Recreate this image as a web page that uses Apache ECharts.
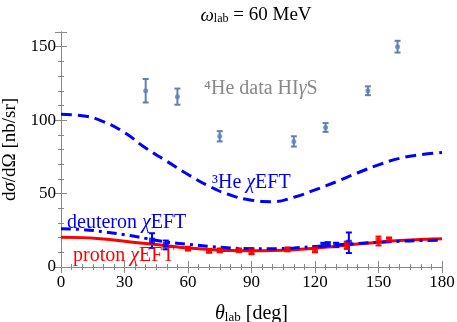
<!DOCTYPE html>
<html>
<head>
<meta charset="utf-8">
<script src="https://cdn.jsdelivr.net/npm/echarts@6/dist/echarts.min.js"></script>
<style>
  html, body { margin: 0; padding: 0; background: #fff; }
  #chart { width: 457px; height: 322px; }
</style>
</head>
<body>
<div id="chart"></div>
<script>
// 4He data HIgS: angle, value, error
const he4Angle = [40, 55, 75, 110, 125, 145, 159]
const he4Value = [120, 116, 89, 85.5, 95, 120, 150]
const he4Error = [8, 5.5, 3.5, 3.5, 3, 3, 4]

// deuteron data
const dAngle = [43, 49.5, 124, 126, 130, 136]
const dValue = [18, 15, 15, 15.5, 15, 16.5]
const dError = [5, 3, 1.5, 1.2, 1.5, 7]

// proton data
const pAngle = [60, 70, 75, 84, 90, 107, 120, 135, 150, 155]
const pValue = [12.5, 11, 11.3, 11.4, 10.7, 12, 12, 14.8, 17.7, 18.7]
const pError = [1, 1, 1, 0.8, 2, 1, 2, 2.5, 3, 1.2]

// theory curves (every 10 deg)
const curveAngle = [0, 10, 20, 30, 40, 50, 60, 70, 80, 90, 100, 110, 120, 130, 140, 150, 160, 170, 180]
const he3Curve = [104, 103, 99, 91.5, 81, 72, 63, 55, 49, 45.5, 44.5, 47.5, 52.5, 58, 64, 69.5, 74, 76.5, 78]
const deutCurve = [26, 25.5, 24, 22, 19.5, 17, 15.5, 14, 13, 12.5, 12.5, 13, 14, 15, 16, 16.8, 17.5, 18, 18.2]
const protCurve = [20.2, 20, 19, 17.5, 16, 14.5, 13, 12, 11.2, 11, 11.2, 11.8, 12.8, 14.2, 15.6, 16.9, 18, 18.8, 19.3]

const serif = 'Liberation Serif'
const heColor = '#5E81B5'

const chart = echarts.init(document.getElementById('chart'))

function zip3(a, b, c) {
  return a.map((v, i) => [v, b[i], c[i]])
}

function errorBars(color, capW) {
  return function (params, api) {
    const x = api.value(0), y = api.value(1), e = api.value(2)
    const top = api.coord([x, y + e])
    const bot = api.coord([x, y - e])
    const st = { stroke: color, lineWidth: 2 }
    return {
      type: 'group',
      children: [
        { type: 'line', shape: { x1: top[0], y1: top[1], x2: bot[0], y2: bot[1] }, style: st },
        { type: 'line', shape: { x1: top[0] - capW, y1: top[1], x2: top[0] + capW, y2: top[1] }, style: st },
        { type: 'line', shape: { x1: bot[0] - capW, y1: bot[1], x2: bot[0] + capW, y2: bot[1] }, style: st }
      ]
    }
  }
}

// rich styles for math-ish text
function mathRich(size, color, key) {
  const c = {}
  c[key] = color
  return {
    i: Object.assign({ fontFamily: serif, fontStyle: 'italic', fontWeight: 'normal', fontSize: size }, c),
    sub: Object.assign({ fontFamily: serif, fontWeight: 'normal', fontSize: Math.round(size * 0.65), verticalAlign: 'bottom', padding: [7, 0, 0, 0] }, c),
    n: Object.assign({ fontFamily: serif, fontWeight: 'normal', fontSize: size }, c)
  }
}

const axisLine = { lineStyle: { color: '#888', width: 1 } }
const tick = { inside: true, length: 6, lineStyle: { color: '#888' } }
const minor = n => ({ show: true, splitNumber: n, length: 3, lineStyle: { color: '#888' } })

const option = {
  animation: false,
  title: {
    text: '{i|ω}{sub|lab}{n| = 60 MeV}',
    left: 251,
    top: 1,
    textAlign: 'center',
    textStyle: { fontWeight: 'normal', rich: mathRich(19, '#000', 'color') }
  },
  grid: { left: 61, right: 15, top: 32, bottom: 55, outerBoundsMode: 'none' },
  xAxis: [{
    type: 'value', min: 0, max: 180, interval: 30,
    name: '{i|θ}{sub|lab}{n| [deg]}',
    nameLocation: 'middle', nameGap: 37,
    nameTextStyle: { rich: mathRich(20, '#000', 'color') },
    axisLine: axisLine,
    axisTick: tick,
    minorTick: minor(6),
    axisLabel: { fontFamily: serif, fontSize: 17, color: '#000', margin: 7 },
    splitLine: { show: false }
  }, {
    type: 'value', min: 0, max: 180, interval: 30, position: 'top',
    axisLine: axisLine,
    axisTick: tick,
    minorTick: minor(6),
    axisLabel: { show: false },
    splitLine: { show: false }
  }],
  yAxis: [{
    type: 'value', min: 0, max: 160, interval: 50,
    name: '{n|d}{i|σ}{n|/dΩ [nb/sr]}',
    nameLocation: 'middle', nameGap: 38, nameRotate: 90,
    nameTextStyle: { rich: mathRich(19, '#000', 'color') },
    axisLine: axisLine,
    axisTick: tick,
    minorTick: minor(5),
    axisLabel: {
      fontFamily: serif, fontSize: 17, color: '#000', margin: 5,
      formatter: v => (v % 50 === 0 ? String(v) : '')
    },
    splitLine: { show: false }
  }, {
    type: 'value', min: 0, max: 160, interval: 50, position: 'right',
    axisLine: axisLine,
    axisTick: tick,
    minorTick: minor(5),
    axisLabel: { show: false },
    splitLine: { show: false }
  }],
  series: [
    {
      name: '3He', type: 'line', smooth: true, showSymbol: false,
      data: curveAngle.map((a, i) => [a, he3Curve[i]]),
      lineStyle: { color: '#0000FF', width: 3, type: [11, 6] }
    },
    {
      name: 'proton', type: 'line', smooth: true, showSymbol: false,
      data: curveAngle.map((a, i) => [a, protCurve[i]]),
      lineStyle: { color: '#FF0000', width: 3 }
    },
    {
      name: 'deuteron', type: 'line', smooth: true, showSymbol: false,
      data: curveAngle.map((a, i) => [a, deutCurve[i]]),
      lineStyle: { color: '#0000FF', width: 3, type: [10, 5, 3, 5] }
    },
    {
      type: 'custom', renderItem: errorBars(heColor, 3),
      data: zip3(he4Angle, he4Value, he4Error), z: 3
    },
    {
      type: 'scatter', symbol: 'circle', symbolSize: 5,
      itemStyle: { color: heColor },
      data: he4Angle.map((a, i) => [a, he4Value[i]]), z: 4
    },
    {
      type: 'custom', renderItem: errorBars('#0000FF', 3),
      data: zip3(dAngle, dValue, dError), z: 3
    },
    {
      type: 'scatter', symbol: 'rect', symbolSize: 6,
      itemStyle: { color: '#0000FF' },
      data: dAngle.map((a, i) => [a, dValue[i]]), z: 4
    },
    {
      type: 'custom', renderItem: errorBars('#FF0000', 3),
      data: zip3(pAngle, pValue, pError), z: 3
    },
    {
      type: 'scatter', symbol: 'rect', symbolSize: 6,
      itemStyle: { color: '#FF0000' },
      data: pAngle.map((a, i) => [a, pValue[i]]), z: 4
    }
  ],
  graphic: [
    {
      type: 'text', left: 204, top: 79, z: 10,
      style: { text: '{n|⁴He data HI}{i|γ}{n|S}', rich: mathRich(20, '#888', 'fill') }
    },
    {
      type: 'text', left: 212, top: 173, z: 10,
      style: { text: '{n|³He }{i|χ}{n|EFT}', rich: mathRich(20, '#0000FF', 'fill') }
    },
    {
      type: 'text', left: 67, top: 213, z: 10,
      style: { text: '{n|deuteron }{i|χ}{n|EFT}', rich: mathRich(20, '#0000FF', 'fill') }
    },
    {
      type: 'text', left: 73, top: 246, z: 10,
      style: { text: '{n|proton }{i|χ}{n|EFT}', rich: mathRich(20, '#FF0000', 'fill') }
    }
  ]
}

chart.setOption(option)
</script>
</body>
</html>
